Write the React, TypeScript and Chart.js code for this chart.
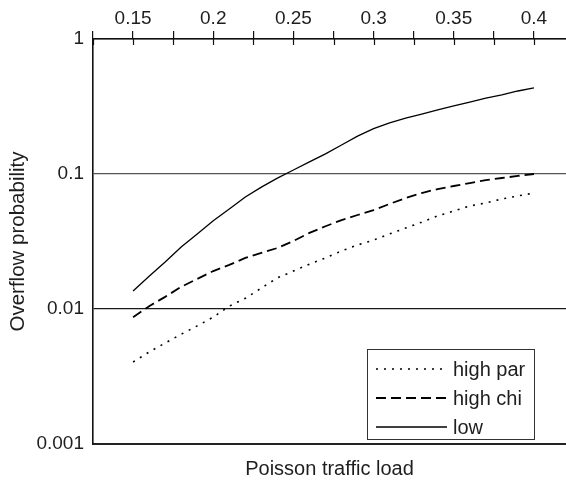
import React, { useEffect, useRef } from 'react';
import { Chart, registerables } from 'chart.js';

Chart.register(...registerables);

const loads = [0.15, 0.16, 0.17, 0.18, 0.19, 0.2, 0.21, 0.22, 0.23, 0.24, 0.25, 0.26, 0.27, 0.28, 0.29, 0.3, 0.31, 0.32, 0.33, 0.34, 0.35, 0.36, 0.37, 0.38, 0.39, 0.4];
const highPar = [0.00405, 0.0048, 0.0056, 0.0065, 0.0075, 0.0087, 0.0105, 0.012, 0.0143, 0.017, 0.0191, 0.0215, 0.0239, 0.0269, 0.0298, 0.0324, 0.036, 0.0398, 0.044, 0.0489, 0.0532, 0.058, 0.061, 0.0653, 0.0688, 0.0723];
const highChi = [0.0087, 0.0105, 0.0123, 0.0146, 0.0167, 0.0191, 0.0212, 0.0239, 0.026, 0.0283, 0.0319, 0.0366, 0.041, 0.0456, 0.0497, 0.054, 0.06, 0.0664, 0.0723, 0.0774, 0.0815, 0.0857, 0.09, 0.0934, 0.0967, 0.1];
const low = [0.0136, 0.0175, 0.0223, 0.0288, 0.036, 0.045, 0.055, 0.0676, 0.08, 0.0933, 0.107, 0.123, 0.141, 0.164, 0.191, 0.217, 0.239, 0.259, 0.278, 0.298, 0.319, 0.341, 0.365, 0.385, 0.412, 0.434];
const seriesNames = ['high par', 'high chi', 'low'];
const xTickValues = [0.125, 0.15, 0.175, 0.2, 0.225, 0.25, 0.275, 0.3, 0.325, 0.35, 0.375, 0.4];
const xTickLabels = ['0.15', '0.2', '0.25', '0.3', '0.35', '0.4'];
const yTickLabels = ['1', '0.1', '0.01', '0.001'];

const FONT_FAMILY = '"Liberation Sans", Arial, Helvetica, sans-serif';
const TEXT = '#1e1e1e';

const innerTicks = {
  id: 'innerTicks',
  afterDraw(chart: any) {
    const { ctx } = chart;
    const xs = chart.scales.x;
    ctx.save();
    ctx.strokeStyle = '#111';
    ctx.lineWidth = 1.2;
    xs.ticks.forEach((t: any) => {
      const px = Math.round(xs.getPixelForValue(t.value)) + 0.5;
      ctx.beginPath();
      ctx.moveTo(px, xs.bottom);
      ctx.lineTo(px, xs.bottom + 6);
      ctx.stroke();
    });
    ctx.restore();
  },
};

const boxLegend = {
  id: 'boxLegend',
  afterDatasetsDraw(chart: any) {
    const { ctx, chartArea } = chart;
    const w = 167;
    const h = 90;
    const x0 = Math.round(chartArea.right - 32 - w);
    const y0 = Math.round(chartArea.bottom - 5 - h);
    ctx.save();
    ctx.fillStyle = '#fff';
    ctx.fillRect(x0, y0, w, h);
    ctx.strokeStyle = '#333';
    ctx.lineWidth = 1;
    ctx.strokeRect(x0 + 0.5, y0 + 0.5, w, h);
    chart.data.datasets.forEach((ds: any, i: number) => {
      const cy = y0 + 20 + i * 29;
      ctx.setLineDash(ds.borderDash || []);
      ctx.lineWidth = ds.borderWidth;
      ctx.strokeStyle = '#000';
      ctx.beginPath();
      ctx.moveTo(x0 + 9, cy);
      ctx.lineTo(x0 + 80, cy);
      ctx.stroke();
      ctx.setLineDash([]);
      ctx.fillStyle = TEXT;
      ctx.font = '20px ' + FONT_FAMILY;
      ctx.textBaseline = 'middle';
      ctx.textAlign = 'left';
      ctx.fillText(ds.label, x0 + 86, cy + 1);
    });
    ctx.restore();
  },
};

export default function App() {
  const ref = useRef<HTMLCanvasElement | null>(null);

  useEffect(() => {
    if (!ref.current) return;
    const fmt = (v: number) => String(Number(Number(v).toFixed(4)));
    const chart = new Chart(ref.current, {
      type: 'line',
      data: {
        labels: loads,
        datasets: [
          { label: seriesNames[0], data: loads.map((x, i) => ({ x, y: highPar[i] })), borderColor: '#000', borderWidth: 1.6, borderDash: [2, 6], pointRadius: 0, tension: 0, fill: false, xAxisID: 'x', yAxisID: 'y' },
          { label: seriesNames[1], data: loads.map((x, i) => ({ x, y: highChi[i] })), borderColor: '#000', borderWidth: 1.8, borderDash: [10, 5], pointRadius: 0, tension: 0, fill: false, xAxisID: 'x', yAxisID: 'y' },
          { label: seriesNames[2], data: loads.map((x, i) => ({ x, y: low[i] })), borderColor: '#000', borderWidth: 1.3, pointRadius: 0, tension: 0, fill: false, xAxisID: 'x', yAxisID: 'y' },
        ],
      },
      options: {
        animation: false,
        responsive: true,
        maintainAspectRatio: false,
        layout: { padding: 0 },
        plugins: { legend: { display: false }, tooltip: { enabled: false } },
        scales: {
          x: {
            type: 'linear',
            position: 'top',
            min: 0.125,
            max: 0.42,
            afterBuildTicks: (scale: any) => {
              scale.ticks = xTickValues.map((v) => ({ value: v }));
            },
            afterFit: (scale: any) => { scale.height = 39; },
            ticks: {
              autoSkip: false,
              maxRotation: 0,
              padding: 1,
              color: TEXT,
              font: { family: FONT_FAMILY, size: 19 },
              callback: (v: any) => {
                const s = fmt(v);
                return xTickLabels.includes(s) ? s : '';
              },
            },
            grid: { drawOnChartArea: false, drawTicks: true, tickLength: 8, color: '#111', lineWidth: 1.2 },
            border: { display: true, color: '#111', width: 1.6 },
          },
          x2: {
            type: 'linear',
            position: 'bottom',
            min: 0.125,
            max: 0.42,
            afterFit: (scale: any) => { scale.height = 37; },
            ticks: { display: false },
            grid: { display: false, drawTicks: false },
            border: { display: true, color: '#222', width: 2 },
            title: { display: true, text: 'Poisson traffic load', color: TEXT, font: { family: FONT_FAMILY, size: 20 }, padding: { top: 0, bottom: 0 } },
          },
          y: {
            type: 'logarithmic',
            position: 'left',
            min: 0.001,
            max: 1,
            afterBuildTicks: (scale: any) => {
              scale.ticks = scale.ticks.filter((t: any) => yTickLabels.includes(fmt(t.value)));
            },
            afterFit: (scale: any) => { scale.width = 93; },
            ticks: {
              autoSkip: false,
              padding: 9,
              color: TEXT,
              font: { family: FONT_FAMILY, size: 19 },
              callback: (v: any) => {
                const s = fmt(v);
                return yTickLabels.includes(s) ? s : '';
              },
            },
            grid: {
              drawTicks: false,
              tickLength: 0,
              color: (c: any) => (fmt(c.tick?.value) === '0.1' ? '#555' : '#1a1a1a'),
              lineWidth: 1.3,
            },
            border: { display: true, color: '#111', width: 1.6 },
            title: { display: true, text: 'Overflow probability', color: TEXT, font: { family: FONT_FAMILY, size: 20.5 }, padding: { top: 6, bottom: 0 } },
          },
        },
      },
      plugins: [innerTicks, boxLegend],
    } as any);
    return () => chart.destroy();
  }, []);

  return (
    <div style={{ position: 'fixed', left: 0, top: 0, width: 566, height: 481, background: '#fff' }}>
      <canvas ref={ref} />
    </div>
  );
}
